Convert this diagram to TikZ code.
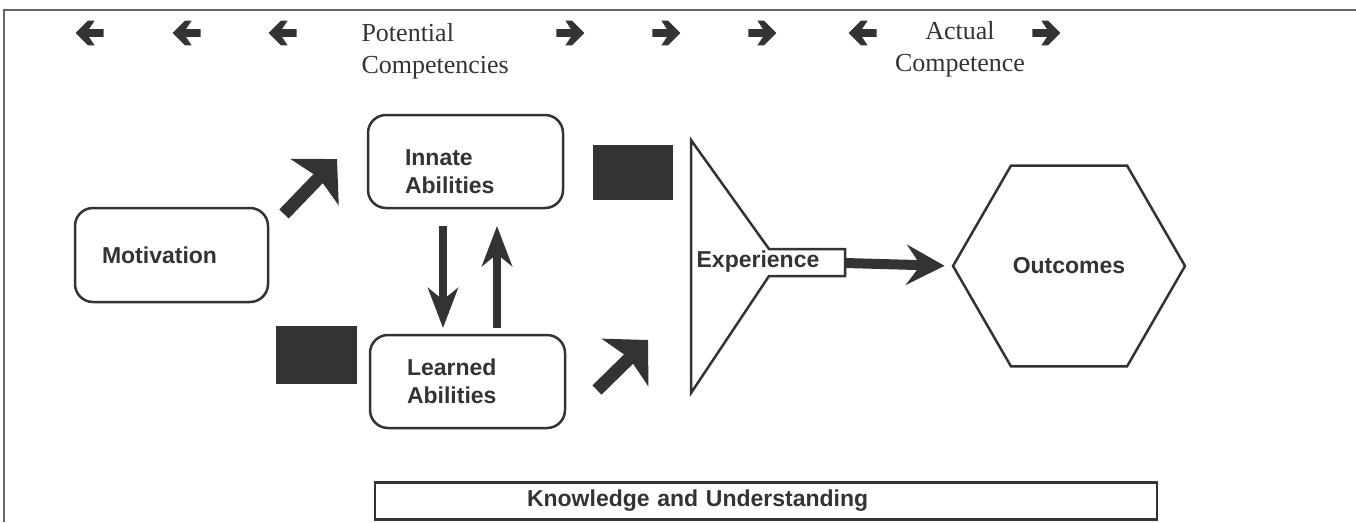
\documentclass[tikz,border=0pt]{standalone}
\usepackage{fontspec}
\setmainfont{Liberation Serif}
\setsansfont{Liberation Sans}
\usetikzlibrary{arrows.meta,shapes.geometric}

\definecolor{ink}{HTML}{333333}
\definecolor{rule}{HTML}{666666}

\tikzset{
  boxfont/.style={font=\sffamily\bfseries\fontsize{23}{28}\selectfont, text=ink},
  heading/.style={font=\fontsize{26}{32}\selectfont, text=ink},
  ability/.style={boxfont, draw=ink, line width=2.5pt, rounded corners=18pt,
    minimum height=93pt, text width=121pt, inner xsep=37pt, align=left},
  slab/.style={fill=ink, inner sep=0pt},
  bigarrow/.style={ink, line width=13pt, -{Stealth[length=32pt,width=66pt,inset=6pt]}},
  thinarrow/.style={ink, line width=8pt, -{Stealth[length=40pt,width=30pt,inset=12pt]}},
  % small bold arrow used along the top line
  toparrow/.pic={
    \fill[ink, scale=1.12] (-13,-3.5) -- (0,-3.5) -- (-5,-11) -- (1,-11) -- (12,0)
      -- (1,11) -- (-5,11) -- (0,3.5) -- (-13,3.5) -- cycle;
  }
}

\begin{document}
\begin{tikzpicture}[x=1pt,y=-1pt]
  \useasboundingbox (0,0) rectangle (1356,522);

  % frame
  \draw[rule, line width=2pt] (1356,10) -- (4,10) -- (4,522);

  % arrows and headings along the top
  \foreach \ax in {89,186,282,862}
    \pic[rotate=180] at (\ax,33) {toparrow};
  \foreach \ax in {571,667,763,1047}
    \pic at (\ax,33) {toparrow};
  \node[heading, anchor=west, align=left] (potential) at (358,51) {Potential\\Competencies};
  \node[heading, align=center] (actual) at (960,49) {Actual\\Competence};

  % abilities
  \node[ability, inner xsep=27pt, text width=139pt, minimum height=94pt] (motivation) at (171.5,255) {Motivation};
  \node[ability] (innate) at (465.5,161.5) {\rule{0pt}{36pt}Innate\\Abilities};
  \node[ability] (learned) at (467.5,381.5) {Learned\\Abilities};

  \node[slab, minimum width=80pt, minimum height=55pt] (slab1) at (633,172.5) {};
  \node[slab, minimum width=81pt, minimum height=58pt] (slab2) at (316.5,355) {};

  % experience funnel
  \draw[ink, line width=2.5pt, line join=miter]
    (691,140) -- (769,249) -- (845,249) -- (845,276) -- (769,276) -- (691,393) -- cycle;
  \node[boxfont] (experience) at (758,262) {Experience};
  \coordinate (experience-out) at (845,263);

  \node[boxfont, draw=ink, line width=2.5pt, regular polygon, regular polygon sides=6,
    minimum size=232pt, inner sep=0pt] (outcomes) at (1069,266) {Outcomes};

  % arrows between the boxes
  \coordinate (motivation-out) at (284,214);
  \coordinate (innate-in) at (337,159);
  \coordinate (learned-out) at (597,390);
  \coordinate (experience-in) at (648,340);
  \coordinate (down-top) at (443,226);
  \coordinate (down-tip) at (443,328);
  \coordinate (up-bottom) at (497,328);
  \coordinate (up-tip) at (497,226);

  \draw[bigarrow] (motivation-out) -- (innate-in);
  \draw[bigarrow] (learned-out) -- (experience-in);
  \draw[thinarrow] (down-top) -- (down-tip);
  \draw[thinarrow] (up-bottom) -- (up-tip);
  \draw[ink, line width=10pt, shorten >=7pt, -{Stealth[length=38pt,width=40pt,inset=14pt]}]
    (experience-out) -- (outcomes.west);

  \node[boxfont, draw=ink, line width=2.5pt, minimum height=37pt, text width=478pt,
    inner xsep=152pt, align=left] (knowledge) at (766,501) {Knowledge and Understanding};
\end{tikzpicture}
\end{document}
